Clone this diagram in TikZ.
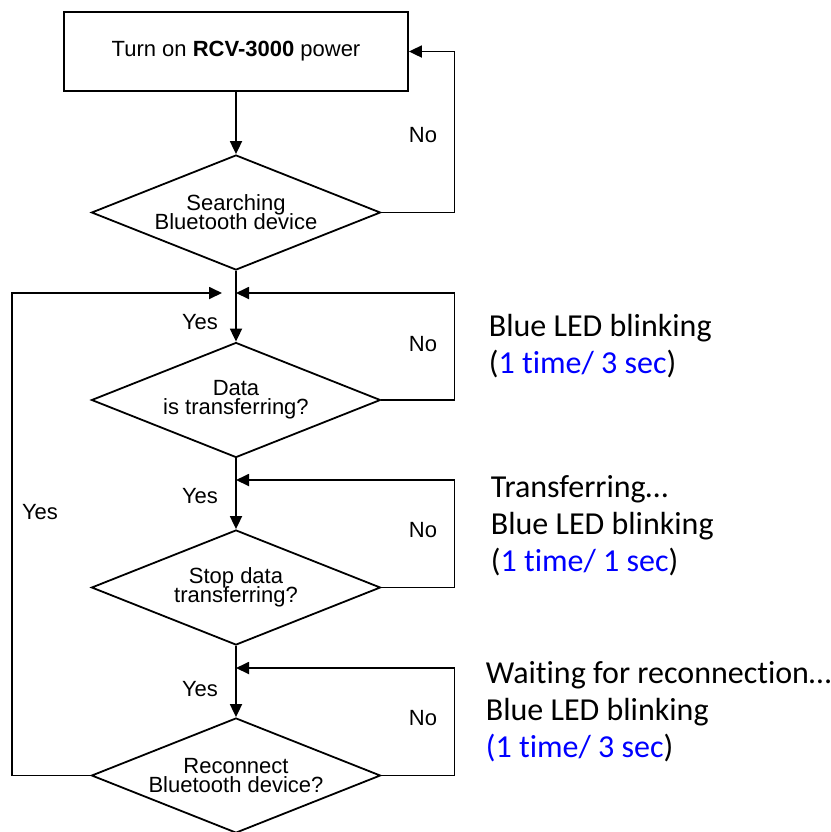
\documentclass[tikz,border=0pt]{standalone}
\usepackage{fontspec}
\setmainfont{Liberation Sans}
\newfontfamily\calibri[RawFeature={-liga;-clig}]{Carlito}
\usetikzlibrary{arrows.meta,shapes.geometric}
\definecolor{ledblue}{RGB}{0,0,255}
\newcommand{\chartfont}{\fontsize{11}{9.5}\selectfont\lineskiplimit=-6pt\relax}

\begin{document}
\begin{tikzpicture}[x=0.5pt, y=-0.5pt, line width=0.9pt,
	every node/.style={font=\chartfont},
	>={Triangle[length=6.5pt,width=6pt]},
	stepbox/.style={draw, minimum width=172pt, minimum height=39.5pt, inner sep=0pt},
	decision/.style={draw, diamond, aspect=2.5, minimum width=144.5pt, minimum height=57.5pt, inner sep=0pt, align=center},
	note/.style={font=\calibri\fontsize{16}{18.5}\selectfont, align=left, anchor=north west, inner sep=0pt}]
	\useasboundingbox (0,0) rectangle (831,832);
	\node[stepbox] (power) at (236,51.5) {Turn on \textbf{RCV-3000} power};
	\node[decision] (search) at (236,212.5) {Searching\\Bluetooth device};
	\node[decision] (data) at (236,400) {Data\\is transferring?};
	\node[decision] (stopq) at (236,587.5) {Stop data\\transferring?};
	\node[decision] (reconn) at (236,775.5) {Reconnect\\Bluetooth device?};
	\coordinate (j1) at (236,293);
	\coordinate (j1w) at (222,293);
	\coordinate (j2) at (236,480);
	\coordinate (j3) at (236,668);
	\draw[->] (power) -- (search);
	\draw[->] (search.east) -- ++(73,0) |- (power.east);
	\draw[->] (search) -- (data);
	\draw[->] (data.east) -- ++(73,0) |- (j1);
	\draw[->] (data) -- (stopq);
	\draw[->] (stopq.east) -- ++(73,0) |- (j2);
	\draw[->] (stopq) -- (reconn);
	\draw[->] (reconn.east) -- ++(73,0) |- (j3);
	\draw[->] (reconn.west) -- ++(-79,0) |- (j1w);
	\node (no1) at (423,135) {No};
	\node (no2) at (423,344) {No};
	\node (no3) at (423,530) {No};
	\node (no4) at (423,718) {No};
	\node (yes1) at (200,322) {Yes};
	\node (yes2) at (200,496) {Yes};
	\node (yes3) at (200,689) {Yes};
	\node (yesback) at (40,512) {Yes};
	\node[note] (led1) at (488,313) {Blue LED blinking\\(\textcolor{ledblue}{1 time/ 3 sec})};
	\node[note] (led2) at (490,475) {Transferring…\\Blue LED blinking\\(\textcolor{ledblue}{1 time/ 1 sec})};
	\node[note] (led3) at (485,661) {Waiting for reconnection…\\Blue LED blinking\\\textcolor{ledblue}{(1 time/ 3 sec})};
\end{tikzpicture}
\end{document}
